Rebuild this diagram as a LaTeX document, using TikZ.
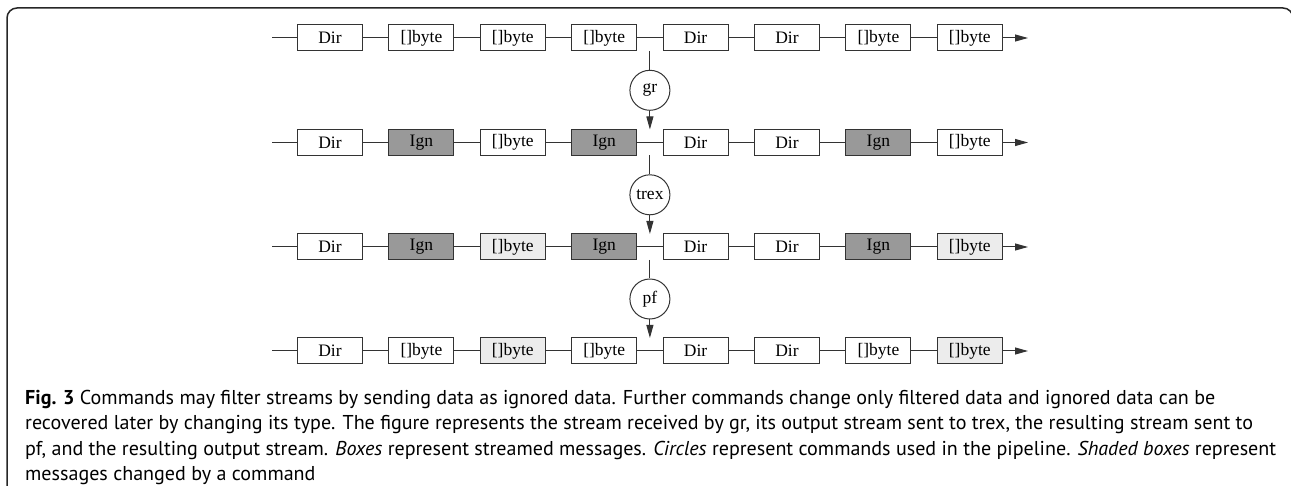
\documentclass[tikz,border=0pt]{standalone}
\usepackage{fontspec}
\setmainfont{Liberation Serif}
\newfontfamily\capfont{PT Sans}
\usetikzlibrary{arrows.meta}

\definecolor{edge}{HTML}{333333}
\definecolor{ignfill}{HTML}{999999}
\definecolor{chgfill}{HTML}{ECECEC}

% width of the longest caption line at 10pt, used to size the caption
\newlength\capwd
\AtBeginDocument{\settowidth\capwd{\capfont\fontsize{10}{12}\selectfont pf, and the resulting output stream. \textit{Boxes} represent streamed messages. \textit{Circles} represent commands used in the pipeline. \textit{Shaded boxes} represent}}

\tikzset{
  msg/.style={draw=edge, line width=1pt, fill=white, minimum width=65pt,
    minimum height=26pt, inner sep=0pt, font=\fontsize{17.5}{20}\selectfont},
  ign/.style={msg, fill=ignfill},
  chg/.style={msg, fill=chgfill},
  cmd/.style={circle, draw=edge, line width=1pt, minimum size=40pt,
    inner sep=0pt, font=\fontsize{17.5}{20}\selectfont},
  link/.style={draw=edge, line width=1pt},
  flow/.style={link, -{Triangle[length=13pt,width=7pt]}},
  frame/.style={draw=black!85, line width=1.5pt, rounded corners=10pt},
  captext/.style={anchor=base west, inner sep=0pt},
}

\begin{document}
\begin{tikzpicture}[x=1pt, y=-1pt]
  \useasboundingbox (0,0) rectangle (1291,486);
  \clip (0,0) rectangle (1291,486);

  % outer frame, open at the bottom
  \draw[frame] (7,500) -- (7,8) -- (1293,8) -- (1293,500);

  % stream 1: input of gr
  \coordinate (s1) at (272,38);
  \node[msg] (b11) at (330,38)   {Dir};
  \node[msg] (b12) at (421.4,38) {[]byte};
  \node[msg] (b13) at (512.8,38) {[]byte};
  \node[msg] (b14) at (604.2,38) {[]byte};
  \node[msg] (b15) at (695.6,38) {Dir};
  \node[msg] (b16) at (787,38)   {Dir};
  \node[msg] (b17) at (878.4,38) {[]byte};
  \node[msg] (b18) at (969.8,38) {[]byte};
  \coordinate (e1) at (1028,38);

  % stream 2: output of gr
  \coordinate (s2) at (272,142.5);
  \node[msg] (b21) at (330,142.5)   {Dir};
  \node[ign] (b22) at (421.4,142.5) {Ign};
  \node[msg] (b23) at (512.8,142.5) {[]byte};
  \node[ign] (b24) at (604.2,142.5) {Ign};
  \node[msg] (b25) at (695.6,142.5) {Dir};
  \node[msg] (b26) at (787,142.5)   {Dir};
  \node[ign] (b27) at (878.4,142.5) {Ign};
  \node[msg] (b28) at (969.8,142.5) {[]byte};
  \coordinate (e2) at (1028,142.5);

  % stream 3: output of trex
  \coordinate (s3) at (272,247);
  \node[msg] (b31) at (330,247)   {Dir};
  \node[ign] (b32) at (421.4,247) {Ign};
  \node[chg] (b33) at (512.8,247) {[]byte};
  \node[ign] (b34) at (604.2,247) {Ign};
  \node[msg] (b35) at (695.6,247) {Dir};
  \node[msg] (b36) at (787,247)   {Dir};
  \node[ign] (b37) at (878.4,247) {Ign};
  \node[chg] (b38) at (969.8,247) {[]byte};
  \coordinate (e3) at (1028,247);

  % stream 4: output of pf
  \coordinate (s4) at (272,351);
  \node[msg] (b41) at (330,351)   {Dir};
  \node[msg] (b42) at (421.4,351) {[]byte};
  \node[chg] (b43) at (512.8,351) {[]byte};
  \node[msg] (b44) at (604.2,351) {[]byte};
  \node[msg] (b45) at (695.6,351) {Dir};
  \node[msg] (b46) at (787,351)   {Dir};
  \node[msg] (b47) at (878.4,351) {[]byte};
  \node[chg] (b48) at (969.8,351) {[]byte};
  \coordinate (e4) at (1028,351);

  % links between consecutive messages
  \foreach \r in {1,...,4} {
    \draw[link] (s\r) -- (b\r1);
    \foreach \i [evaluate=\i as \j using int(\i+1)] in {1,...,7}
      \draw[link] (b\r\i) -- (b\r\j);
    \draw[flow] (b\r8) -- (e\r);
  }

  % commands in the pipeline
  \node[cmd] (gr)   at (649.9,90.3)  {gr};
  \node[cmd] (trex) at (649.9,194.8) {trex};
  \node[cmd] (pf)   at (649.9,299)   {pf};

  \coordinate (gr-in)    at (649.9,51);
  \coordinate (gr-out)   at (649.9,129.5);
  \coordinate (trex-in)  at (649.9,155.5);
  \coordinate (trex-out) at (649.9,234);
  \coordinate (pf-in)    at (649.9,260);
  \coordinate (pf-out)   at (649.9,338);

  \draw[link] (gr-in) -- (gr);
  \draw[flow] (gr) -- (gr-out);
  \draw[link] (trex-in) -- (trex);
  \draw[flow] (trex) -- (trex-out);
  \draw[link] (pf-in) -- (pf);
  \draw[flow] (pf) -- (pf-out);

  % caption, sized so that its longest line fills the frame width
  \pgfmathsetmacro\capsize{10*1251/\capwd}
  \tikzset{captext/.append style={font=\capfont\fontsize{\capsize}{\capsize}\selectfont}}

  \node[captext] (cap1) at (25,404) {\textbf{Fig. 3} Commands may filter streams by sending data as ignored data. Further commands change only filtered data and ignored data can be};
  \node[captext] (cap2) at (25,429.5) {recovered later by changing its type. The figure represents the stream received by gr, its output stream sent to trex, the resulting stream sent to};
  \node[captext] (cap3) at (25,455) {pf, and the resulting output stream. \textit{Boxes} represent streamed messages. \textit{Circles} represent commands used in the pipeline. \textit{Shaded boxes} represent};
  \node[captext] (cap4) at (25,480.5) {messages changed by a command};
\end{tikzpicture}
\end{document}
